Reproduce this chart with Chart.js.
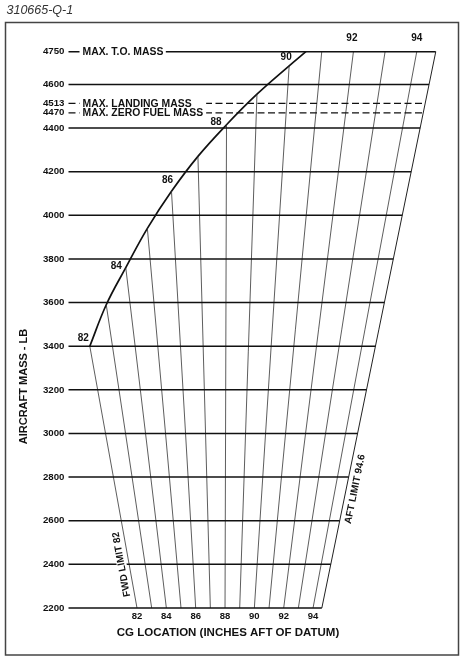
<!DOCTYPE html>
<html><head><meta charset="utf-8">
<script src="https://cdn.jsdelivr.net/npm/chart.js@4/dist/chart.umd.min.js"></script>
<style>html,body{margin:0;padding:0;background:#fff;}canvas{display:block;}</style>
</head><body>
<canvas id="c" width="465" height="660"></canvas>
<script>
// ---- data ----
const massTicks = [2200,2400,2600,2800,3000,3200,3400,3600,3800,4000,4200,4400,4470,4513,4600,4750];
const solidMassLines = [2200,2400,2600,2800,3000,3200,3400,3600,3800,4000,4200,4400,4600,4750];
const dashedMassLines = [4470,4513];
const massLineNames = {4750:'MAX. T.O. MASS', 4513:'MAX. LANDING MASS', 4470:'MAX. ZERO FUEL MASS'};
const cgLines = [82,83,84,85,86,87,88,89,90,91,92,93,94];
const cgLineTopMass = [3400,3590,3760,3940,4110,4270,4415,4555,4685,4750,4750,4750,4750];
const fwdLimitCG = [82,83,84,85,86,87,88,89,90,90.5];
const fwdLimitMass = [3400,3590,3760,3940,4110,4270,4415,4555,4685,4750];
const aftLimitCG = 94.6;
const minMass = 2200, maxMass = 4750;
const cgTickLabels = [82,84,86,88,90,92,94];
const cgCurveLabels = [82,84,86,88,90];
const cgTopLabels = [92,94];
const pivotCG = 87.9;   // CG line that stands vertical in the chart

// chart x coordinate (inches at the 2200 lb reference line)
function chartX(cg, mass){ return pivotCG + (cg - pivotCG) * mass / minMass; }

const X_MIN = 77.33, X_MAX = 102.6;
const FONT = '"Liberation Sans", Arial, Helvetica, sans-serif';
const INK = '#111';

const datasets = [];
const base = {showLine:true, pointRadius:0, pointHoverRadius:0, fill:false, clip:false};
solidMassLines.forEach(m => datasets.push(Object.assign({}, base, {
  data:[{x:X_MIN,y:m},{x:chartX(aftLimitCG,m),y:m}], borderColor:INK, borderWidth:1.5})));
dashedMassLines.forEach(m => datasets.push(Object.assign({}, base, {
  data:[{x:X_MIN,y:m},{x:chartX(aftLimitCG,m),y:m}], borderColor:INK, borderWidth:1.3, borderDash:[7,3.5]})));
cgLines.forEach((cg,i) => datasets.push(Object.assign({}, base, {
  data:[{x:chartX(cg,cgLineTopMass[i]),y:cgLineTopMass[i]},{x:chartX(cg,minMass),y:minMass}],
  borderColor:'#333', borderWidth:0.8})));
datasets.push(Object.assign({}, base, {
  data:[{x:chartX(aftLimitCG,maxMass),y:maxMass},{x:chartX(aftLimitCG,minMass),y:minMass}],
  borderColor:'#222', borderWidth:1}));
datasets.push(Object.assign({}, base, {
  data: fwdLimitCG.map((cg,i)=>({x:chartX(cg,fwdLimitMass[i]), y:fwdLimitMass[i]})),
  borderColor:INK, borderWidth:1.7, tension:0.4}));

const labelOffsets = {82:[-6.5,-7.5],84:[-9.5,-1],86:[-4,-11],88:[-10.5,-3],90:[-3,-8.5],92:[-1.5,-13],94:[0,-13]};

const decor = {
  id:'decor',
  beforeDraw(chart){
    const ctx = chart.ctx;
    ctx.save();
    ctx.fillStyle='#fff'; ctx.fillRect(0,0,chart.width,chart.height);
    ctx.strokeStyle='#444'; ctx.lineWidth=1.5;
    ctx.strokeRect(5.5,22.5,453,632.5);
    ctx.fillStyle='#333'; ctx.font='italic 12.5px '+FONT;
    ctx.textBaseline='alphabetic'; ctx.textAlign='left';
    ctx.fillText('310665-Q-1',6.5,14);
    ctx.restore();
  },
  afterDatasetsDraw(chart){
    const ctx = chart.ctx, xs = chart.scales.x, ys = chart.scales.y;
    ctx.save();
    // mass line names with white knock-out
    ctx.font='bold 10.4px '+FONT; ctx.textBaseline='middle'; ctx.textAlign='left';
    let dashedEnd = 0;
    dashedMassLines.forEach(m => { const w = ctx.measureText(massLineNames[m]).width; dashedEnd = Math.max(dashedEnd, xs.left+14+w+3); });
    Object.keys(massLineNames).forEach(k => {
      const m = +k, y = ys.getPixelForValue(m), x0 = xs.left + 14;
      const w = ctx.measureText(massLineNames[m]).width;
      const x1 = dashedMassLines.includes(m) ? dashedEnd : x0 + w + 2.5;
      ctx.fillStyle='#fff'; ctx.fillRect(x0-3, y-3.5, x1-(x0-3), 7);
      ctx.fillStyle=INK; ctx.fillText(massLineNames[m], x0, y+0.3);
    });
    // CG labels on the curve and top
    ctx.font='bold 10px '+FONT; ctx.textAlign='center'; ctx.fillStyle=INK;
    cgCurveLabels.concat(cgTopLabels).forEach(cg => {
      const i = cgLines.indexOf(cg), m = cgLineTopMass[i];
      const px = xs.getPixelForValue(chartX(cg,m)), py = ys.getPixelForValue(m);
      const o = labelOffsets[cg];
      ctx.fillText(String(cg), px+o[0], py+o[1]);
    });
    // limit labels along lines
    function along(cg, mass, text, off, knock){
      const xb = xs.getPixelForValue(chartX(cg,minMass)), yb = ys.getPixelForValue(minMass);
      const xt = xs.getPixelForValue(chartX(cg,maxMass)), yt = ys.getPixelForValue(maxMass);
      const ang = Math.atan2(yt-yb, xt-xb);
      const px = xs.getPixelForValue(chartX(cg,mass)) + off, py = ys.getPixelForValue(mass);
      ctx.save(); ctx.translate(px,py); ctx.rotate(ang);
      ctx.font='bold 10px '+FONT; ctx.textAlign='center'; ctx.textBaseline='middle';
      if (knock){ const w = ctx.measureText(text).width; ctx.fillStyle='#fff'; ctx.fillRect(-w/2-1,-5,w+2,10); }
      ctx.fillStyle=INK; ctx.fillText(text,0,0); ctx.restore();
    }
    along(fwdLimitCG[0], 2400, 'FWD LIMIT 82', -7.5, true);
    along(aftLimitCG, 2745, 'AFT LIMIT 94.6', 9, false);
    // axis titles
    ctx.fillStyle=INK;
    ctx.font='bold 11.5px '+FONT; ctx.textAlign='center'; ctx.textBaseline='middle';
    ctx.fillText('CG LOCATION (INCHES AFT OF DATUM)', 228, 633);
    ctx.save(); ctx.translate(23.5,386.5); ctx.rotate(-Math.PI/2);
    ctx.font='bold 11px '+FONT; ctx.fillText('AIRCRAFT MASS - LB',0,0); ctx.restore();
    ctx.restore();
  }
};

new Chart(document.getElementById('c'), {
  type:'scatter',
  data:{datasets},
  options:{
    responsive:false, animation:false, devicePixelRatio:1, events:[],
    layout:{padding:{top:51.7,right:25.8,left:0,bottom:0}},
    plugins:{legend:{display:false}, tooltip:{enabled:false}},
    scales:{
      x:{type:'linear', min:X_MIN, max:X_MAX,
        afterBuildTicks:s=>{ s.ticks = cgTickLabels.map(v=>({value:v})); },
        afterFit:s=>{ s.height = 52; },
        grid:{display:false, drawTicks:false, tickLength:0}, border:{display:false},
        ticks:{autoSkip:false, maxRotation:0, padding:3, color:INK,
          font:{family:FONT, size:9.5, weight:'bold'}, callback:v=>String(v)}},
      y:{type:'linear', min:minMass, max:maxMass,
        afterBuildTicks:s=>{ s.ticks = massTicks.map(v=>({value:v})); },
        afterFit:s=>{ s.width = 68.5; },
        grid:{display:false, drawTicks:false, tickLength:0}, border:{display:false},
        ticks:{autoSkip:false, padding:4, color:INK,
          font:{family:FONT, size:9.7, weight:'bold'}, callback:v=>String(v)}}
    }
  },
  plugins:[decor]
});
</script>
</body></html>
